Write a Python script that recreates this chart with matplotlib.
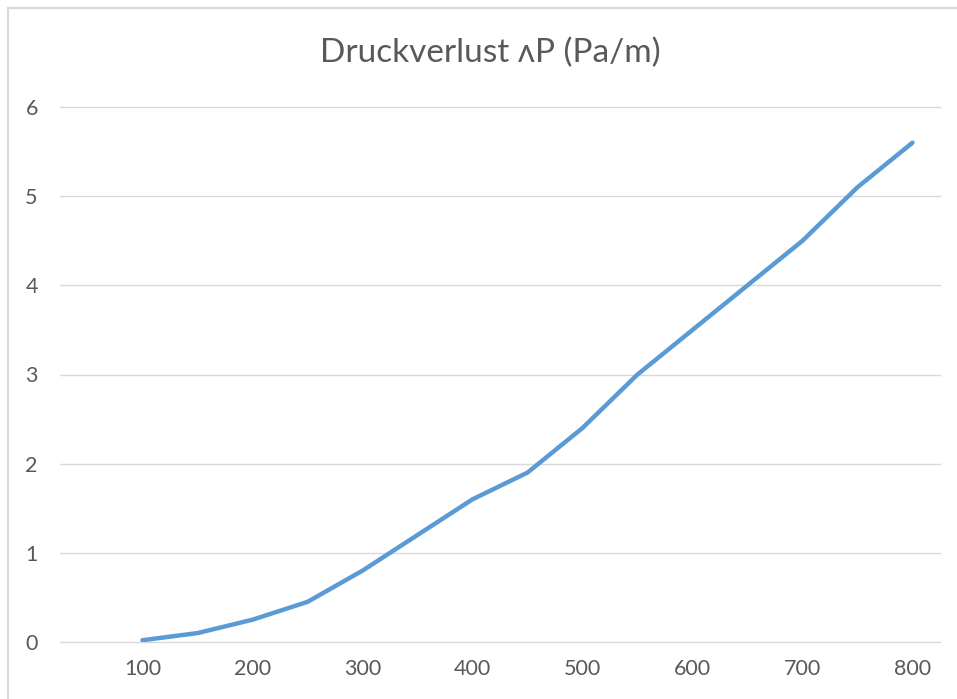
import matplotlib
matplotlib.use('Agg')
import matplotlib.pyplot as plt
from matplotlib.patches import Rectangle

# data
x_vals = [100, 150, 200, 250, 300, 350, 400, 450, 500, 550, 600, 650, 700, 750, 800]
dp_vals = [0.02, 0.1, 0.25, 0.45, 0.8, 1.2, 1.6, 1.9, 2.4, 3.0, 3.5, 4.0, 4.5, 5.1, 5.6]
x_ticks = [100, 200, 300, 400, 500, 600, 700, 800]
y_ticks = [0, 1, 2, 3, 4, 5, 6]
title = 'Druckverlust ʌP (Pa/m)'

plt.rcParams['font.family'] = ['Lato', 'DejaVu Sans']
grey = '#595959'

fig = plt.figure(figsize=(9.57, 6.99), dpi=100)
ax = fig.add_axes([60 / 957, 1 - 642 / 699, 880 / 957, 535 / 699])

ax.plot(x_vals, dp_vals, color='#5B9BD5', linewidth=3.2, solid_capstyle='round', zorder=3)

ax.set_xlim(25, 825)
ax.set_ylim(0, 6)
ax.set_xticks(x_ticks)
ax.set_yticks(y_ticks)
ax.tick_params(axis='both', length=0, labelsize=15.5, colors=grey)
ax.tick_params(axis='x', pad=12)
ax.tick_params(axis='y', pad=16)

ax.grid(axis='y', color='#d9d9d9', linewidth=1)
for gl in ax.get_ygridlines():
    gl.set_clip_on(False)
ax.set_axisbelow(True)
for s in ax.spines.values():
    s.set_visible(False)

fig.text(490 / 957, 1 - 53 / 699, title, ha='center', va='center', fontsize=24, color=grey)

# chart frame
fig.patches.append(Rectangle((8 / 957, -0.1), 1.1, 1 - 8 / 699 + 0.1, transform=fig.transFigure,
                             fill=False, edgecolor='#d9d9d9', linewidth=1.5))

fig.savefig('out.png', dpi=100)
